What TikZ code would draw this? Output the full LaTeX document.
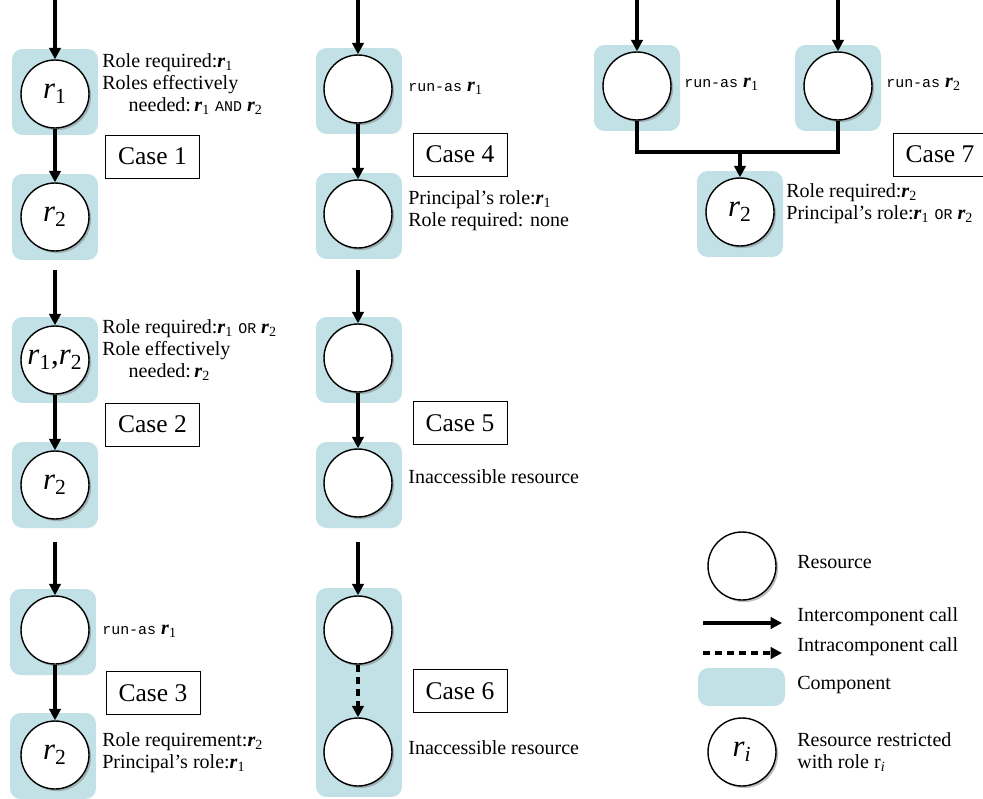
\documentclass[tikz,border=0pt]{standalone}
\usepackage{fontspec}
\setmainfont{Liberation Serif}
\setmonofont{Liberation Mono}
\usetikzlibrary{arrows.meta,shadows,positioning}
\definecolor{COMP}{RGB}{193,225,230}
\newcommand{\rlab}[1]{\textbf{\textit{r}}\textsubscript{#1}}
\newcommand{\rin}[1]{\textit{r}\textsubscript{#1}}
\newcommand{\tto}[1]{{\fontsize{8.5}{9}\selectfont\ttfamily #1}}
\newcommand{\runas}[1]{\tto{run-as}~\rlab{#1}}

\begin{document}
\begin{tikzpicture}
[x=0.02cm, y=-0.02cm,
comp/.style={rectangle, fill=COMP, rounded corners=6pt, minimum width=1.72cm,
minimum height=1.72cm, inner sep=0},
res/.style={circle, draw=black, line width=0.8pt, fill=white, minimum size=1.36cm,
inner sep=0, font=\fontsize{17.5}{17.5}\selectfont,
drop shadow={shadow xshift=1.2pt, shadow yshift=-1.2pt, fill=black!50}},
casebox/.style={rectangle, draw=black, line width=0.5pt, minimum width=1.88cm,
minimum height=0.86cm, font=\fontsize{14.5}{16}\selectfont},
lbl/.style={anchor=west, align=left, inner sep=0, font=\fontsize{11.4}{12.6}\selectfont},
call/.style={line width=2pt, -{Triangle[length=6.5pt,width=6.5pt]}},
icall/.style={call, dash pattern=on 4pt off 2.8pt}]
\useasboundingbox (0,0) rectangle (983,798);

% components
\node[comp] (K1a) at (55,92) {};
\node[comp] (K1b) at (55,217) {};
\node[comp] (K2a) at (55,360) {};
\node[comp] (K2b) at (55,485) {};
\node[comp] (K3a) at (53,632) {};
\node[comp] (K3b) at (53,756) {};
\node[comp] (K4a) at (359,91) {};
\node[comp] (K4b) at (359,216) {};
\node[comp] (K5a) at (359,360) {};
\node[comp] (K5b) at (359,485) {};
\node[comp, minimum height=4.18cm] (K6) at (359,692.5) {};
\node[comp] (K7a) at (637,88) {};
\node[comp] (K7b) at (838,88) {};
\node[comp] (K7c) at (740,214) {};
\node[comp, minimum width=1.74cm, minimum height=0.76cm] (Kleg) at (741.5,687) {};

% resources
\node[res] (R1a) at (55,94) {\rin{1}};
\node[res] (R1b) at (55,217) {\rin{2}};
\node[res] (R2a) at (55,360) {\rin{1},\rin{2}};
\node[res] (R2b) at (55,485) {\rin{2}};
\node[res] (R3a) at (55,630) {};
\node[res] (R3b) at (55,755) {\rin{2}};
\node[res] (R4a) at (358,89) {};
\node[res] (R4b) at (358,214) {};
\node[res] (R5a) at (358,358) {};
\node[res] (R5b) at (358,483) {};
\node[res] (R6a) at (358,630) {};
\node[res] (R6b) at (358,752) {};
\node[res] (R7a) at (637,86) {};
\node[res] (R7b) at (838,86) {};
\node[res] (R7c) at (740,212) {\rin{2}};
\node[res] (Rleg) at (742,566) {};
\node[res] (Rileg) at (742,752) {\textit{r}\textsubscript{\textit{i}}};

% calls
\coordinate (in1) at (55,0);
\coordinate (in2) at (55,270);
\coordinate (in3) at (55,542);
\coordinate (in4) at (358,0);
\coordinate (in5) at (358,270);
\coordinate (in6) at (358,542);
\coordinate (in7a) at (637,0);
\coordinate (in7b) at (838,0);
\coordinate (j7) at (740,152);
\draw[call] (in1) -- (R1a);
\draw[call] (R1a) -- (R1b);
\draw[call] (in2) -- (R2a);
\draw[call] (R2a) -- (R2b);
\draw[call] (in3) -- (R3a);
\draw[call] (R3a) -- (R3b);
\draw[call] (in4) -- (R4a);
\draw[call] (R4a) -- (R4b);
\draw[call] (in5) -- (R5a);
\draw[call] (R5a) -- (R5b);
\draw[call] (in6) -- (R6a);
\draw[icall] (R6a) -- (R6b);
\draw[call] (in7a) -- (R7a);
\draw[call] (in7b) -- (R7b);
\draw[line width=2pt] (R7a) -- (R7a |- j7) -- (R7b |- j7) -- (R7b);
\draw[call] (j7) -- (R7c);

% case boxes
\node[casebox] (C1) at (152.5,156.5) {Case 1};
\node[casebox] (C2) at (152.5,424.5) {Case 2};
\node[casebox] (C3) at (153,693) {Case 3};
\node[casebox] (C4) at (460,154.5) {Case 4};
\node[casebox] (C5) at (460,423) {Case 5};
\node[casebox] (C6) at (460,691) {Case 6};
\node[casebox] (C7) at (940,154.5) {Case 7};

% labels
\node[lbl] (L1) at (102,84) {Role required:\rlab{1}\\Roles effectively\\
\hspace*{15pt}needed:\,\rlab{1} \tto{AND} \rlab{2}};
\node[lbl] (L2) at (102,350) {Role required:\rlab{1} \tto{OR} \rlab{2}\\Role effectively\\
\hspace*{15pt}needed:\,\rlab{2}};
\node[lbl] (L3a) at (102,631) {\runas{1}};
\node[lbl] (L3b) at (102,753) {Role requirement:\rlab{2}\\Principal's role:\rlab{1}};
\node[lbl] (L4a) at (408,88) {\runas{1}};
\node[lbl] (L4b) at (408,211) {Principal's role:\rlab{1}\\Role required: none};
\node[lbl] (L5) at (408,477) {Inaccessible resource};
\node[lbl] (L6) at (408,748) {Inaccessible resource};
\node[lbl] (L7a) at (684,84) {\runas{1}};
\node[lbl] (L7b) at (886,84) {\runas{2}};
\node[lbl] (L7c) at (786,204) {Role required:\rlab{2}\\Principal's role:\rlab{1} \tto{OR} \rlab{2}};

% legend
\coordinate (la1) at (703,623);
\coordinate (lb1) at (782,623);
\coordinate (la2) at (703,653);
\coordinate (lb2) at (782,653);
\draw[call] (la1) -- (lb1);
\draw[icall] (la2) -- (lb2);
\node[lbl] (G1) at (797,562) {Resource};
\node[lbl] (G2) at (797,617) {Intercomponent call};
\node[lbl] (G3) at (797,647) {Intracomponent call};
\node[lbl] (G4) at (797,685) {Component};
\node[lbl] (G5) at (797,752) {Resource restricted\\with role~r\textsubscript{\textit{i}}};

\end{tikzpicture}
\end{document}
